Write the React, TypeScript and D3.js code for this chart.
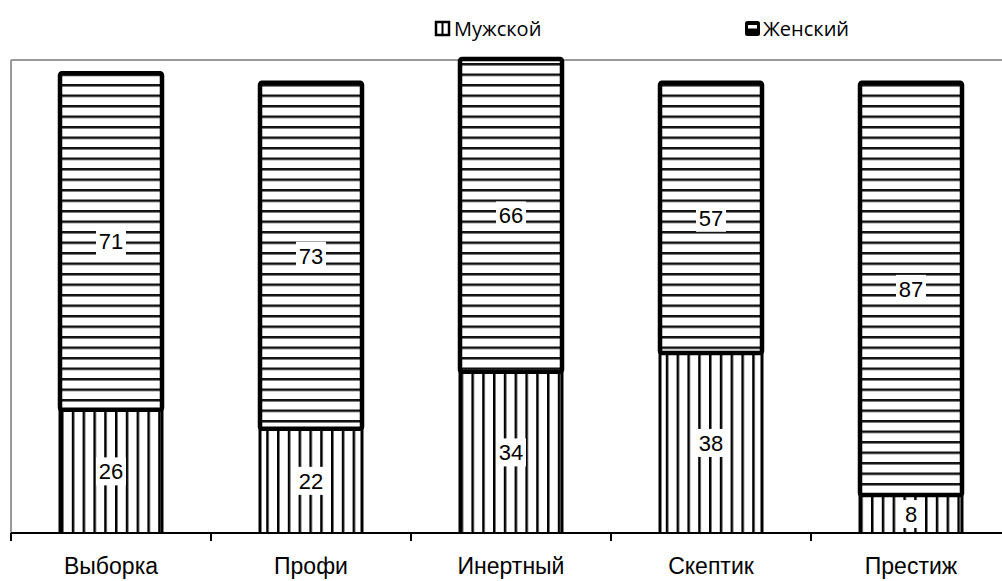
import React from 'react';
import * as d3 from 'd3';

const categories = ['Выборка', 'Профи', 'Инертный', 'Скептик', 'Престиж'];
const male = [26, 22, 34, 38, 8];
const female = [71, 73, 66, 57, 87];
const seriesNames = ['Мужской', 'Женский'];

const W = 1002, H = 581;
const plotLeft = 11, plotTop = 60, base = 533;

const App = () => {
  const x = d3.scaleBand<string>()
    .domain(categories)
    .range([plotLeft, plotLeft + 1000])
    .paddingInner(0.49)
    .paddingOuter(0.245);
  const y = d3.scaleLinear().domain([0, 100]).range([base, 59]);
  const bw = x.bandwidth();
  const step = x.step();
  const font = '"Liberation Sans", Arial, sans-serif';

  const label = (cx: number, cy: number, v: number) => {
    const w = String(v).length * 13 + 4;
    return (
      <g>
        <rect x={cx - w / 2} y={cy - 14} width={w} height={28} fill="#fff" />
        <text x={cx} y={cy + 8} textAnchor="middle" fontSize={22} fontFamily={font}>{v}</text>
      </g>
    );
  };

  return (
    <svg width={W} height={H} style={{ position: 'absolute', left: 0, top: 0 }}>
      <defs>
        <pattern id="vert" patternUnits="userSpaceOnUse" width={10.8} height={10} x={x(categories[0])! + 1}>
          <rect x={0} y={0} width={10.8} height={10} fill="#fff" />
          <rect x={0} y={0} width={2.5} height={10} fill="#000" />
        </pattern>
        <pattern id="horiz" patternUnits="userSpaceOnUse" width={10} height={10.5} y={plotTop + 3}>
          <rect x={0} y={0} width={10} height={10.5} fill="#fff" />
          <rect x={0} y={0} width={10} height={2.5} fill="#111" />
        </pattern>
      </defs>
      <rect width={W} height={H} fill="#fff" />
      {/* plot frame */}
      <line x1={plotLeft} y1={plotTop} x2={W} y2={plotTop} stroke="#999" strokeWidth={2} />
      <line x1={plotLeft} y1={plotTop} x2={plotLeft} y2={base} stroke="#999" strokeWidth={2} />

      {categories.map((c, i) => {
        const x0 = x(c)!;
        const yM = y(male[i]);
        const yF = y(male[i] + female[i]);
        const cx = x0 + bw / 2;
        return (
          <g key={c}>
            <rect x={x0} y={yM} width={bw} height={base - yM} fill="url(#vert)" />
            <line x1={x0} y1={yM} x2={x0} y2={base} stroke="#000" strokeWidth={3} />
            <line x1={x0 + bw} y1={yM} x2={x0 + bw} y2={base} stroke="#000" strokeWidth={3} />
            <rect x={x0} y={yF} width={bw} height={yM - yF} fill="url(#horiz)" stroke="#000" strokeWidth={4.5} rx={2} />
            {label(cx, (yM + base) / 2, male[i])}
            {label(cx, (yF + yM) / 2, female[i])}
          </g>
        );
      })}

      {/* axis */}
      <line x1={plotLeft} y1={base} x2={W} y2={base} stroke="#000" strokeWidth={2} />
      {d3.range(categories.length + 1).map(k => (
        <line key={k} x1={plotLeft + k * step} y1={base} x2={plotLeft + k * step} y2={base + 8} stroke="#000" strokeWidth={2} />
      ))}
      {categories.map(c => (
        <text key={c} x={x(c)! + bw / 2} y={574} textAnchor="middle" fontSize={23} fontFamily={font}>{c}</text>
      ))}

      {/* legend */}
      <g fontFamily='"Open Sans", "Noto Sans", sans-serif' fontSize={20}>
        <rect x={436} y={22} width={13} height={13} fill="#fff" stroke="#000" strokeWidth={2.5} />
        <line x1={442.5} y1={22} x2={442.5} y2={35} stroke="#000" strokeWidth={2} />
        <text x={454} y={36}>{seriesNames[0]}</text>
        <rect x={745} y={21} width={15} height={15} fill="#000" rx={2.5} />
        <rect x={748} y={25} width={9} height={3.5} fill="#fff" />
        <text x={763} y={36}>{seriesNames[1]}</text>
      </g>
    </svg>
  );
};

export default App;
